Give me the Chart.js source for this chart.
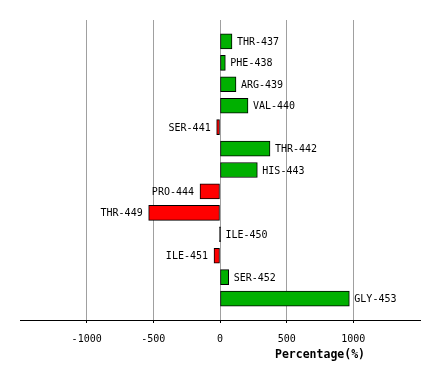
<!DOCTYPE html>
<html>
<head>
<meta charset="utf-8">
<script src="https://cdn.jsdelivr.net/npm/chart.js@4/dist/chart.umd.min.js"></script>
<style>
  html, body { margin: 0; padding: 0; background: #fff; }
  #wrap { width: 440px; height: 380px; }
</style>
</head>
<body>
<div id="wrap"><canvas id="myChart"></canvas></div>
<script>
// residues and their percentage change
var residues = ['THR-437', 'PHE-438', 'ARG-439', 'VAL-440', 'SER-441', 'THR-442', 'HIS-443',
                'PRO-444', 'THR-449', 'ILE-450', 'ILE-451', 'SER-452', 'GLY-453'];
var percentages = [90, 40, 120, 210, -25, 375, 280, -150, -535, 0, -45, 65, 970];
var tickValues = [-1000, -500, 0, 500, 1000];
var axisTitle = 'Percentage(%)';

var FONT = "'DejaVu Sans Mono', monospace";

// bar data: y is just the row index, labels are drawn next to the bars
var points = [];
for (var i = 0; i < residues.length; i++) {
    points.push({ x: percentages[i], y: i });
}

// red for losses, green for gains, a zero bar is only its black outline
function barColor(v) {
    if (v < 0) return '#ff0000';
    if (v > 0) return '#00b000';
    return '#000';
}

// draw residue names next to each bar, and the axis title
var barLabels = {
    id: 'barLabels',
    afterDatasetsDraw: function(chart) {
        var ctx = chart.ctx;
        var meta = chart.getDatasetMeta(0);
        ctx.save();
        ctx.font = '10px ' + FONT;
        ctx.fillStyle = '#000';
        ctx.textBaseline = 'middle';
        meta.data.forEach(function(bar, i) {
            if (percentages[i] >= 0) {
                ctx.textAlign = 'left';
                ctx.fillText(residues[i], Math.max(bar.x, bar.base) + 5, bar.y + 1);
            } else {
                ctx.textAlign = 'right';
                ctx.fillText(residues[i], bar.x - 6, bar.y + 1);
            }
        });
        // axis title sits centered over the positive half
        var xs = chart.scales.x;
        ctx.font = 'bold 11.5px ' + FONT;
        ctx.textAlign = 'center';
        ctx.fillText(axisTitle, xs.getPixelForValue(xs.max / 2), 355);
        ctx.restore();
    }
};

var ctx = document.getElementById('myChart').getContext('2d');
var myChart = new Chart(ctx, {
    type: 'bar',
    data: {
        datasets: [{
            data: points,
            backgroundColor: percentages.map(barColor),
            borderColor: '#000',
            borderWidth: 1,
            borderSkipped: false,
            barThickness: 15,
            minBarLength: 1
        }]
    },
    options: {
        indexAxis: 'y',
        responsive: true,
        maintainAspectRatio: false,
        animation: false,
        layout: { padding: { left: 20, right: 20, top: 20, bottom: 0 } },
        plugins: {
            legend: { display: false },
            tooltip: { enabled: false }
        },
        scales: {
            x: {
                type: 'linear',
                position: 'bottom',
                min: -1500,
                max: 1500,
                afterBuildTicks: function(scale) {
                    scale.ticks = tickValues.map(function(v) { return { value: v }; });
                },
                afterFit: function(scale) { scale.height = 60; },
                grid: {
                    color: '#a0a0a0',
                    lineWidth: 1,
                    tickLength: 3,
                    tickColor: '#000'
                },
                border: { color: '#000', width: 1 },
                ticks: {
                    color: '#000',
                    font: { family: FONT, size: 10 },
                    padding: 10,
                    maxRotation: 0,
                    callback: function(value) { return String(value); }
                }
            },
            y: {
                type: 'linear',
                display: false,
                reverse: true,
                offset: false,
                min: -1,
                max: 13
            }
        }
    },
    plugins: [barLabels]
});
</script>
</body>
</html>
